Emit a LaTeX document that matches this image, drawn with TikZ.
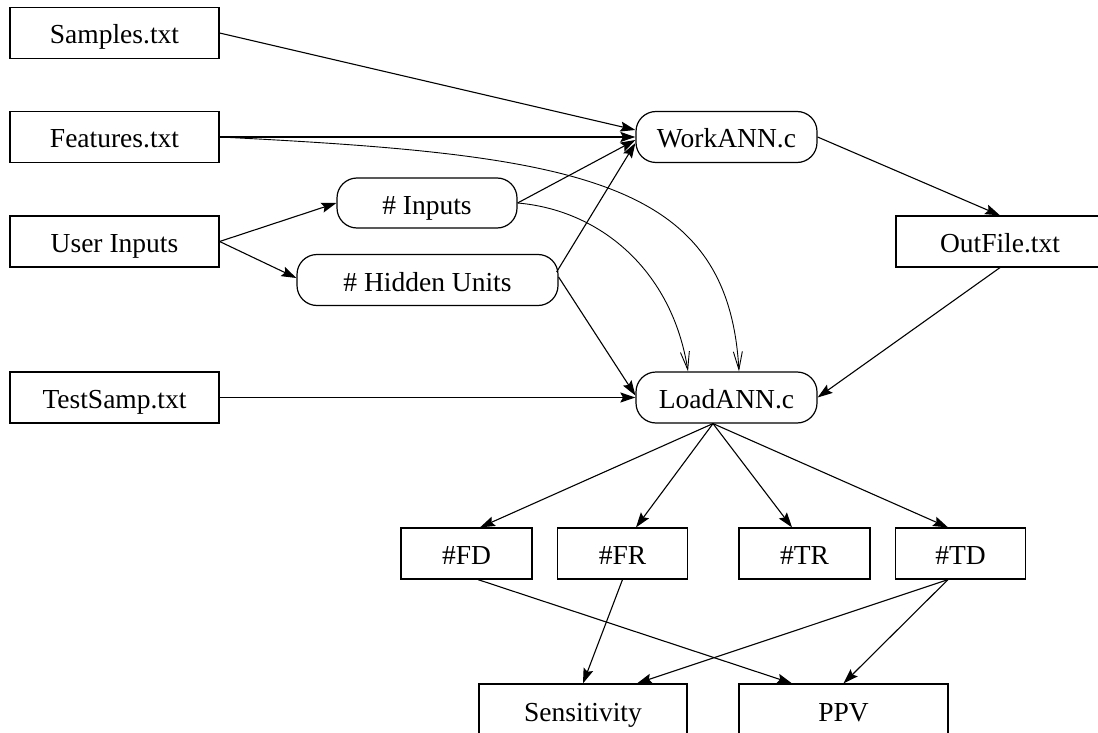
\documentclass[tikz,border=0pt]{standalone}
\usepackage{fontspec}
\setmainfont{Liberation Serif}
\usetikzlibrary{arrows.meta,calc}
\begin{document}
\begin{tikzpicture}[x=1pt,y=-1pt,
  every node/.style={font=\fontsize{27.5}{32}\selectfont, inner sep=0pt, line width=1.2pt, text height=22pt, text depth=0pt},
  box/.style={draw, rectangle, minimum height=51pt},
  pill/.style={draw, rectangle, rounded corners=20pt, minimum height=51pt},
  arr/.style={line width=1.1pt, -{Stealth[length=15pt,width=10pt,inset=2.5pt]}},
  barb/.style={line width=0.9pt, -{Straight Barb[length=18pt,width=9pt]}}
]
\useasboundingbox (0,0) rectangle (1098,733);
\clip (0,0) rectangle (1098,733);
% left column
\node[box, minimum width=209pt] (Samples) at (114.5,33) {Samples.txt};
\node[box, minimum width=209pt] (Features) at (114.5,137) {Features.txt};
\node[box, minimum width=209pt] (User) at (114.5,241.5) {User Inputs};
\node[box, minimum width=209pt] (Test) at (114.5,397.5) {TestSamp.txt};
% middle
\node[pill, minimum width=180pt, minimum height=50pt] (Inputs) at (427,203) {\# Inputs};
\node[pill, minimum width=261pt] (Hidden) at (427.5,280) {\# Hidden Units};
\node[pill, minimum width=181pt] (Work) at (726.5,137) {WorkANN.c};
\node[pill, minimum width=181pt] (Load) at (726.5,397.5) {LoadANN.c};
\node[box, minimum width=208pt] (Out) at (1000,241.5) {OutFile.txt};
% counts
\node[box, minimum width=131pt] (FD) at (466.5,553.5) {\#FD};
\node[box, minimum width=130pt] (FR) at (622.5,553.5) {\#FR};
\node[box, minimum width=131pt] (TR) at (804.5,553.5) {\#TR};
\node[box, minimum width=130pt] (TD) at (960.5,553.5) {\#TD};
% results
\node[box, minimum width=208pt, minimum height=52pt] (Sens) at (583,710) {Sensitivity};
\node[box, minimum width=209pt, minimum height=52pt] (PPV) at (843.5,710) {PPV};
% connectors into WorkANN
\draw[arr] (Samples.east) -- ($(Work.west)+(0,-7)$);
\draw[arr] (Features.east) -- (Work.west);
\draw[arr] (Inputs.east) -- ($(Work.west)+(0,3)$);
\draw[arr] ($(Hidden.east)+(-2,-8)$) -- ($(Work.west)+(0,6)$);
% user inputs
\draw[arr] (User.east) -- (Inputs.west);
\draw[arr] (User.east) -- ($(Hidden.west)+(0,-2)$);
% into LoadANN
\draw[barb] (Features.east) .. controls (580,155) and (728,180) .. ($(Load.north)+(12.5,0)$);
\draw[barb] (Inputs.east) .. controls (600,210) and (672,270) .. ($(Load.north)+(-38.5,0)$);
\draw[arr] ($(Hidden.east)+(0,-3)$) -- ($(Load.west)+(0,-2)$);
\draw[arr] (Test.east) -- (Load.west);
\draw[arr] (Work.east) -- (Out.north);
\draw[arr] (Out.south) -- (Load.east);
% out of LoadANN
\coordinate (ls) at ($(Load.south)+(-13.5,0)$);
\draw[arr] (ls) -- ($(FD.north)+(13.5,0)$);
\draw[arr] (ls) -- ($(FR.north)+(13.5,0)$);
\draw[arr] (ls) -- ($(TR.north)+(-12.5,0)$);
\draw[arr] (ls) -- ($(TD.north)+(-12.5,0)$);
% to results
\draw[arr] ($(FD.south)+(11.5,0)$) -- ($(PPV.north)+(-51.5,0)$);
\draw[arr] (FR.south) -- (Sens.north);
\draw[arr] ($(TD.south)+(-12.5,0)$) -- ($(Sens.north)+(54,0)$);
\draw[arr] ($(TD.south)+(-12.5,0)$) -- (PPV.north);
\end{tikzpicture}
\end{document}
